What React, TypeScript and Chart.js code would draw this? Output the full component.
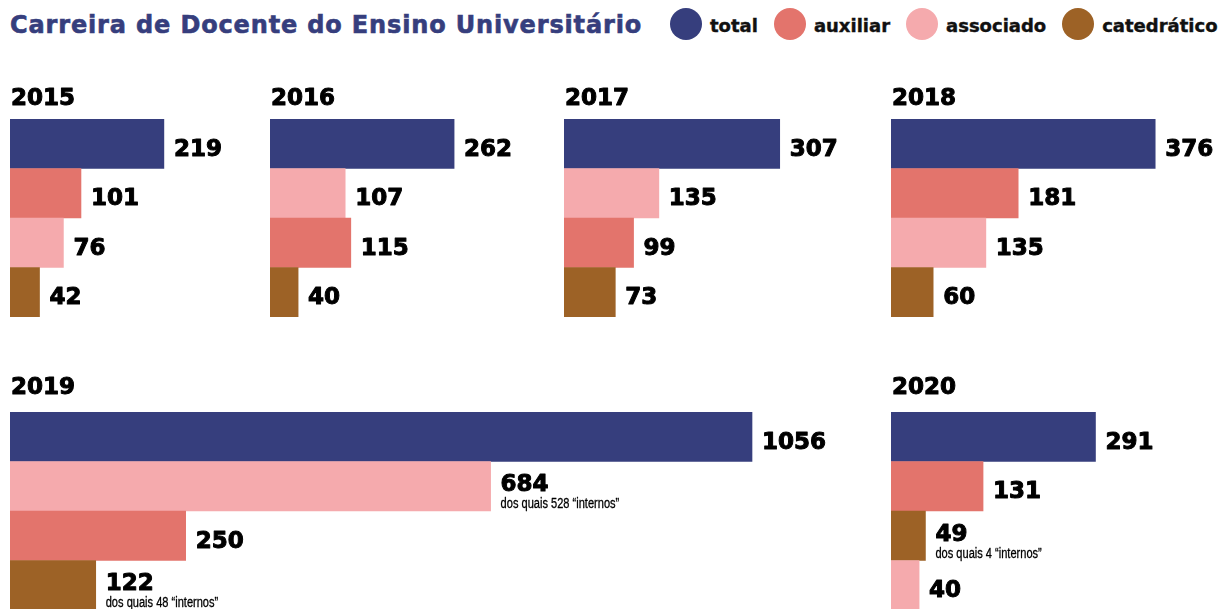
import React, { useEffect, useRef } from "react";
import { Chart, registerables } from "chart.js";

Chart.register(...registerables);

const TITLE = "Carreira de Docente do Ensino Universitário";
const years = ["2015", "2016", "2017", "2018", "2019", "2020"];
const seriesKeys = ["total", "auxiliar", "associado", "catedratico"];
const seriesNames = ["total", "auxiliar", "associado", "catedrático"];
const seriesColors = ["#363E7D", "#E3746C", "#F5AAAD", "#9D6226"];

const total = [219, 262, 307, 376, 1056, 291];
const auxiliar = [101, 115, 99, 181, 250, 131];
const associado = [76, 107, 135, 135, 684, 40];
const catedratico = [42, 40, 73, 60, 122, 49];
const internosAssociado = [null, null, null, null, 528, null];
const internosCatedratico = [null, null, null, null, 48, 4];

const barOrder = [
  ["total", "auxiliar", "associado", "catedratico"],
  ["total", "associado", "auxiliar", "catedratico"],
  ["total", "associado", "auxiliar", "catedratico"],
  ["total", "auxiliar", "associado", "catedratico"],
  ["total", "associado", "auxiliar", "catedratico"],
  ["total", "auxiliar", "catedratico", "associado"],
];

const valuesByKey: Record<string, number[]> = { total, auxiliar, associado, catedratico };
const internosByKey: Record<string, (number | null)[]> = {
  associado: internosAssociado,
  catedratico: internosCatedratico,
};

// panel layout (page pixels)
const panels = [
  { left: 10, top: 70, width: 250, yearBase: 35 },
  { left: 270, top: 70, width: 290, yearBase: 35 },
  { left: 564, top: 70, width: 320, yearBase: 35 },
  { left: 891, top: 70, width: 330, yearBase: 35 },
  { left: 10, top: 363, width: 870, yearBase: 31 },
  { left: 891, top: 363, width: 330, yearBase: 31 },
];
const PX_PER_UNIT = 742 / 1056;
const TITLE_BLOCK = 49;
const BAR_AREA = 198;

const NUM_FONT = "bold 23px 'DejaVu Sans'";

function heavyText(ctx: any, text: string, x: number, y: number, w: number) {
  ctx.lineWidth = w;
  ctx.lineJoin = "round";
  ctx.strokeText(text, x, y);
  ctx.fillText(text, x, y);
}

function Panel({ idx }: { idx: number }) {
  const ref = useRef<HTMLCanvasElement>(null);
  const p = panels[idx];
  const h = TITLE_BLOCK + BAR_AREA;
  useEffect(() => {
    const order = barOrder[idx];
    const values = order.map((k) => valuesByKey[k][idx]);
    const colors = order.map((k) => seriesColors[seriesKeys.indexOf(k)]);
    const notes = order.map((k) => {
      const arr = internosByKey[k];
      const v = arr ? arr[idx] : null;
      return v == null ? null : `dos quais ${v} “internos”`;
    });
    const labelPlugin = {
      id: "valueLabels",
      afterDatasetsDraw(chart: any) {
        const ctx = chart.ctx;
        const meta = chart.getDatasetMeta(0);
        ctx.save();
        ctx.fillStyle = "#000";
        ctx.strokeStyle = "#000";
        ctx.textAlign = "left";
        ctx.textBaseline = "alphabetic";
        // year heading
        ctx.font = NUM_FONT;
        heavyText(ctx, years[idx], chart.chartArea.left + 1, p.yearBase, 1);
        meta.data.forEach((bar: any, i: number) => {
          const x = bar.x + 10;
          const note = notes[i];
          ctx.font = NUM_FONT;
          if (note) {
            heavyText(ctx, String(values[i]), x, bar.y + 5, 1);
            ctx.save();
            ctx.font = "14px 'Liberation Sans'";
            ctx.translate(x, bar.y + 22);
            ctx.scale(0.79, 1);
            ctx.lineWidth = 0.3;
            ctx.strokeText(note, 0, 0);
            ctx.fillText(note, 0, 0);
            ctx.restore();
          } else {
            heavyText(ctx, String(values[i]), x, bar.y + 12, 1);
          }
        });
        ctx.restore();
      },
    };
    const chart = new Chart(ref.current!, {
      type: "bar",
      data: {
        labels: order.map((k) => seriesNames[seriesKeys.indexOf(k)]),
        datasets: [
          {
            data: values,
            backgroundColor: colors,
            borderWidth: 0,
            categoryPercentage: 1,
            barPercentage: 1,
          },
        ],
      },
      options: {
        indexAxis: "y",
        responsive: false,
        animation: false,
        devicePixelRatio: 1,
        layout: { padding: { top: TITLE_BLOCK, left: 0, right: 0, bottom: 0 } },
        scales: {
          x: { display: false, min: 0, max: p.width / PX_PER_UNIT },
          y: { display: false },
        },
        plugins: {
          legend: { display: false },
          tooltip: { enabled: false },
          title: { display: false },
        },
      },
      plugins: [labelPlugin],
    } as any);
    return () => chart.destroy();
  }, [idx]);
  return (
    <canvas
      ref={ref}
      width={p.width}
      height={h}
      style={{ position: "absolute", left: p.left, top: p.top, width: p.width, height: h }}
    />
  );
}

export default function App() {
  return (
    <div
      style={{
        position: "fixed",
        left: 0,
        top: 0,
        width: 1221,
        height: 609,
        overflow: "hidden",
        background: "#fff",
      }}
    >
      <div
        style={{
          position: "absolute",
          left: 10,
          top: 13,
          fontFamily: "'DejaVu Sans'",
          fontWeight: "bold",
          fontSize: 24,
          lineHeight: "24px",
          letterSpacing: "0.85px",
          color: seriesColors[0],
          WebkitTextStroke: `0.6px ${seriesColors[0]}`,
          whiteSpace: "nowrap",
        }}
      >
        {TITLE}
      </div>
      <div
        style={{
          position: "absolute",
          left: 670,
          top: 8,
          height: 32,
          display: "flex",
          alignItems: "center",
          gap: 16,
          fontFamily: "'DejaVu Sans'",
          fontWeight: "bold",
          fontSize: 18,
          color: "#111",
          WebkitTextStroke: "0.4px #111",
          whiteSpace: "nowrap",
        }}
      >
        {seriesNames.map((n, i) => (
          <div key={n} style={{ display: "flex", alignItems: "center" }}>
            <span
              style={{
                display: "inline-block",
                width: 32,
                height: 32,
                borderRadius: "50%",
                background: seriesColors[i],
                marginRight: 8,
              }}
            />
            <span style={{ lineHeight: "18px", paddingTop: 3 }}>{n}</span>
          </div>
        ))}
      </div>
      {years.map((y, i) => (
        <Panel key={y} idx={i} />
      ))}
    </div>
  );
}
